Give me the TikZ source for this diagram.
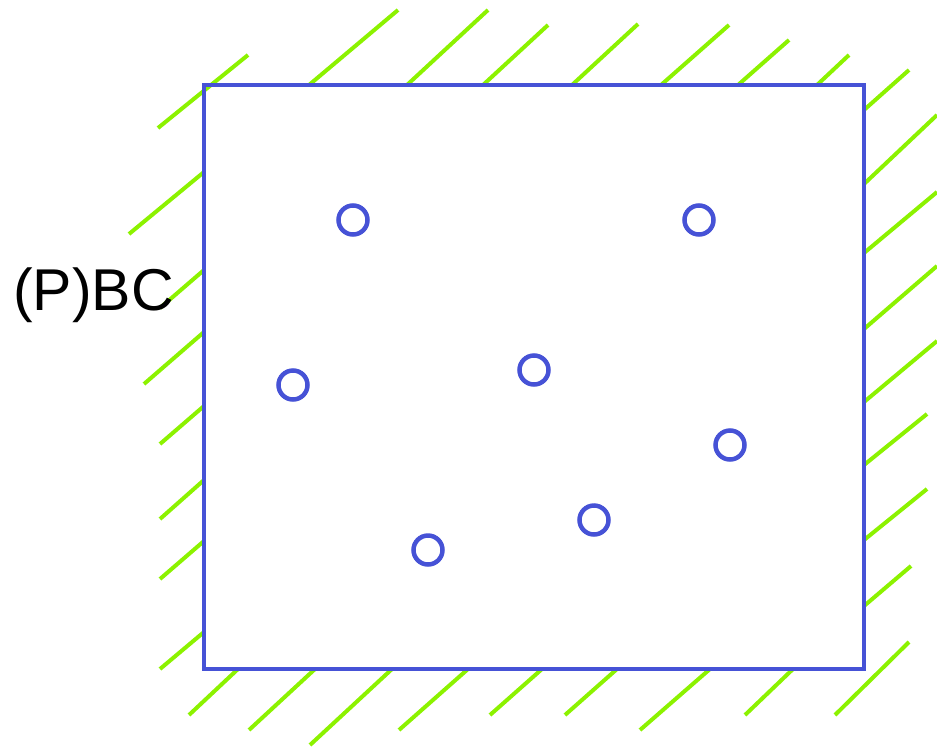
\documentclass[tikz,border=0pt]{standalone}
\usepackage{fontspec}
\setmainfont{Liberation Sans}
\usetikzlibrary{positioning}
\definecolor{PbcBlue}{RGB}{70,82,214}
\definecolor{PbcGreen}{RGB}{140,242,0}
\tikzset{
  pbc/domain/.style={
    draw=PbcBlue,
    line width=4.5pt,
    fill=none,
    inner sep=0pt,
    minimum width=660pt,
    minimum height=584pt
  },
  pbc/particle/.style={circle, draw=PbcBlue, line width=4.5pt, minimum size=29pt, inner sep=0pt},
  pbc/hatch/.style={draw=PbcGreen, line width=4pt},
  pbc/label/.style={font=\fontsize{59}{60}\selectfont, text=black, inner sep=0pt}
}

\begin{document}
\begin{tikzpicture}[x=1pt,y=-1pt]
  \useasboundingbox (0,0) rectangle (937,748);
  % wall hatching round the box
  \foreach \xa/\ya/\xb/\yb in {
      158/128/248/55, 309/85/398/10, 407/85/488/10, 483/85/548/25,
      572/85/638/24, 661/85/729/25, 738/85/789/40, 817/85/849/55,
      864/110/909/70, 864/184/937/115, 864/253/937/192, 864/329/937/266,
      864/402/937/341, 864/465/927/414, 864/540/927/489, 864/606/911/566,
      835/715/909/642,
      129/234/204/172, 160/308/204/270, 144/384/204/332, 160/444/204/406,
      160/519/204/480, 160/579/204/541, 160/669/204/632,
      189/715/238/669, 249/730/315/669, 310/745/392/669, 399/730/468/669,
      490/715/542/669, 565/715/617/669, 640/730/710/669, 745/715/793/669}
    \draw[pbc/hatch] (\xa,\ya) -- (\xb,\yb);
  \node[pbc/domain] (domain) at (534,377) {};
  \node[pbc/label,anchor=base west] (bc) at (13,310) {(P)BC};
  \node[pbc/particle] (p1) at (353,220) {};
  \node[pbc/particle] (p2) at (699,220) {};
  \node[pbc/particle] (p3) at (293,385) {};
  \node[pbc/particle] (p4) at (534,370) {};
  \node[pbc/particle] (p5) at (730,445) {};
  \node[pbc/particle] (p6) at (594,520) {};
  \node[pbc/particle] (p7) at (428,550) {};
\end{tikzpicture}
\end{document}
